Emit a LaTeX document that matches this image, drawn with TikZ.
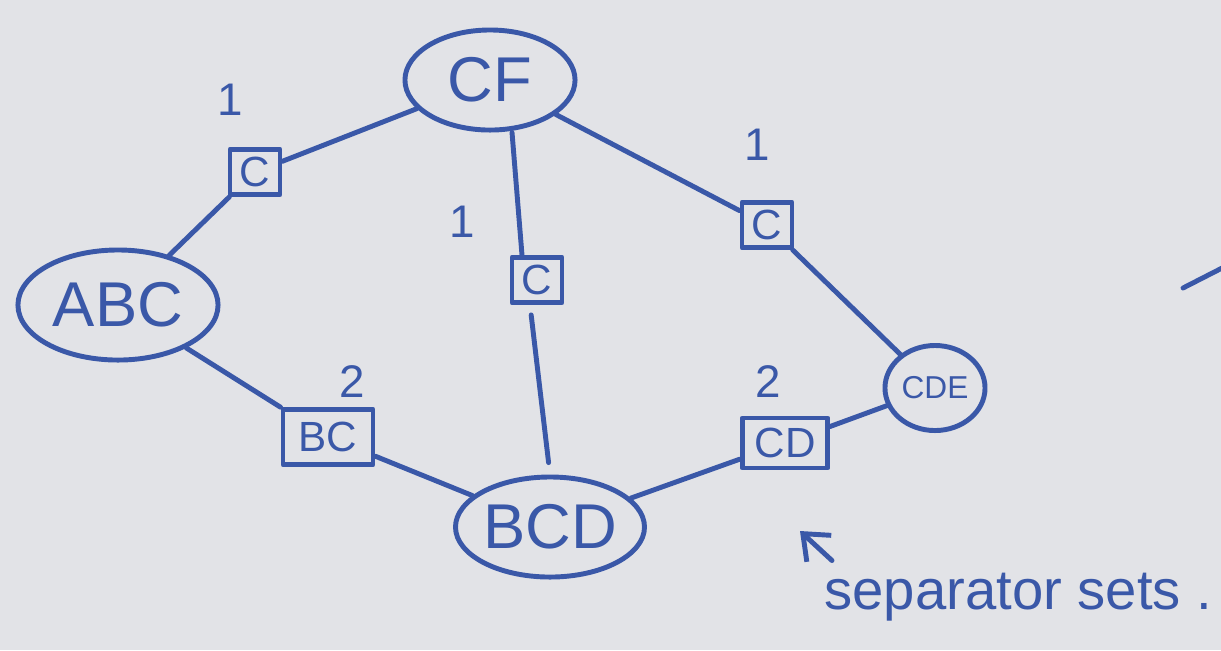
\documentclass[tikz,border=0pt]{standalone}
\usepackage{fontspec}
\setmainfont{Liberation Sans}
\usetikzlibrary{shapes.geometric,arrows.meta}
\definecolor{ink}{RGB}{58,88,168}
\definecolor{paper}{RGB}{226,227,231}
\begin{document}
\begin{tikzpicture}[x=0.01cm,y=-0.01cm,line join=round,line cap=round,>={Straight Barb[length=2.2mm,width=3.6mm]},
		ink,line width=1.4pt,
		clique/.style={draw,ellipse,inner sep=0pt,font=\fontsize{18}{18}\selectfont},
		sepset/.style={draw,rectangle,inner sep=1pt,minimum width=0.5cm,minimum height=0.45cm,font=\fontsize{12}{12}\selectfont},
		weight/.style={font=\fontsize{13}{13}\selectfont}]
		\useasboundingbox (0,0) rectangle (1221,650);
		\clip (0,0) rectangle (1221,650);
		\fill[paper] (0,0) rectangle (1221,650);
		% cliques
		\node[clique,minimum width=1.7cm,minimum height=1cm] (CF) at (490,80) {CF};
		\node[clique,minimum width=2cm,minimum height=1.1cm] (ABC) at (118,305) {ABC};
		\node[clique,minimum width=1.8cm,minimum height=1cm] (BCD) at (550,527) {BCD};
		\node[clique,minimum width=1cm,minimum height=0.85cm,font=\fontsize{9}{9}\selectfont] (CDE) at (935,388) {CDE};
		% separators and their weights
		\node[sepset] (sABC) at (255,172) {C};
		\node[sepset] (sCFBCD) at (537,280) {C};
		\node[sepset] (sCFCDE) at (767,225) {C};
		\node[sepset,minimum width=0.9cm,minimum height=0.55cm] (sBC) at (328,437) {BC};
		\node[sepset,minimum width=0.85cm,minimum height=0.5cm] (sCD) at (785,443) {CD};
		\node[weight] (wABC) at (230,100) {1};
		\node[weight] (wCFBCD) at (462,222) {1};
		\node[weight] (wCFCDE) at (757,145) {1};
		\node[weight] (wBC) at (352,382) {2};
		\node[weight] (wCD) at (768,382) {2};
		% edges
		\draw (ABC) -- (sABC);
		\draw (sABC) -- (CF);
		\draw ([xshift=0.22cm]CF.south) -- ([xshift=-0.15cm]sCFBCD.north);
		\draw[shorten <=0.1cm,shorten >=0.12cm] ([xshift=-0.07cm]sCFBCD.south) -- (BCD.north);
		\draw (CF) -- (sCFCDE);
		\draw (sCFCDE) -- (CDE);
		\draw (ABC) -- (sBC);
		\draw (sBC) -- (BCD);
		\draw (BCD) -- (sCD);
		\draw (sCD) -- (CDE);
		% note
		\node[font=\fontsize{16}{16}\selectfont,anchor=west,inner sep=0pt] (note) at (822,597) {separator sets .};
		\coordinate (arrowtip) at (800,531);
		\draw[->] ([shift={(10,-10)}]note.north west) -- (arrowtip);
		\draw (1183,288) -- (1226,266);
	\end{tikzpicture}
\end{document}
